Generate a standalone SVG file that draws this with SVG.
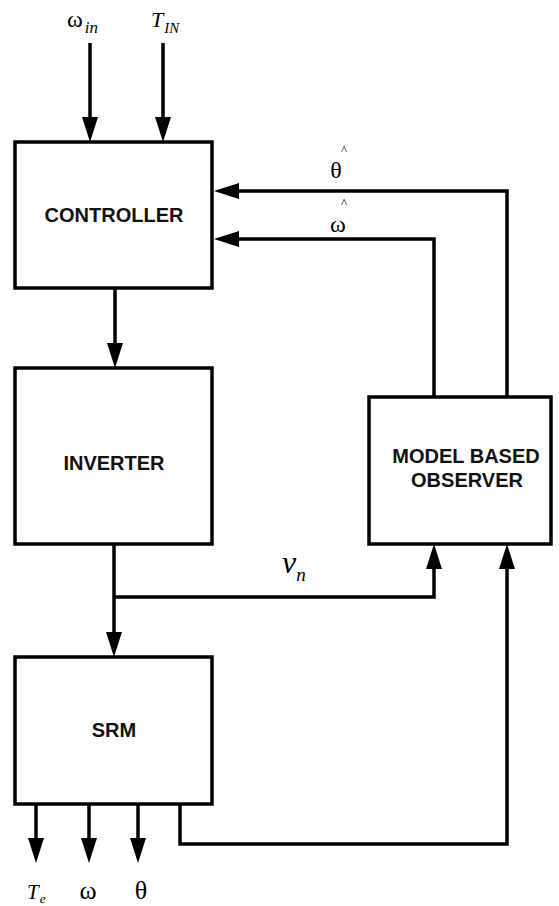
<svg xmlns="http://www.w3.org/2000/svg" width="559" height="906" viewBox="0 0 559 906">
<style>
.box{fill:#fff;stroke:#000;stroke-width:3.5}
.lbl{font-family:"Liberation Sans",Arial,sans-serif;font-weight:bold;font-size:20px;text-anchor:middle;fill:#111}
.ln{fill:none;stroke:#000;stroke-width:3.5}
.sym{font-family:"Liberation Serif","Times New Roman",serif;fill:#000}
.it{font-style:italic}
</style>
<defs>
<marker id="ah" markerUnits="userSpaceOnUse" markerWidth="26" markerHeight="16" refX="0" refY="8" orient="auto" overflow="visible">
<path d="M0,0 L25,8 L0,16 Z" fill="#000"/>
</marker>
</defs>
<g id="controller"><rect class="box" x="15" y="142" width="197" height="146"/><text class="lbl" x="114" y="222">CONTROLLER</text></g>
<g id="inverter"><rect class="box" x="15" y="368" width="197" height="176"/><text class="lbl" x="114" y="470">INVERTER</text></g>
<g id="srm"><rect class="box" x="15" y="657" width="197" height="147"/><text class="lbl" x="114" y="737">SRM</text></g>
<g id="observer"><rect class="box" x="369" y="397" width="182" height="147"/><text class="lbl" x="466" y="463">MODEL BASED</text><text class="lbl" x="467" y="487">OBSERVER</text></g>
<g id="connectors">
<path class="ln" d="M90,43 V117" marker-end="url(#ah)"/>
<path class="ln" d="M163,43 V117" marker-end="url(#ah)"/>
<path class="ln" d="M507,397 V191 H239" marker-end="url(#ah)"/>
<path class="ln" d="M434,397 V239 H239" marker-end="url(#ah)"/>
<path class="ln" d="M115,288 V343" marker-end="url(#ah)"/>
<path class="ln" d="M114,544 V632" marker-end="url(#ah)"/>
<path class="ln" d="M114,597 H434 V569" marker-end="url(#ah)"/>
<path class="ln" d="M180,804 V844 H507 V569" marker-end="url(#ah)"/>
<path class="ln" d="M36,804 V838" marker-end="url(#ah)"/>
<path class="ln" d="M89,804 V838" marker-end="url(#ah)"/>
<path class="ln" d="M138,804 V838" marker-end="url(#ah)"/>
</g>
<g id="labels">
<text class="sym" x="67" y="27" font-size="24">ω<tspan class="it" font-size="17" dy="6" dx="2">in</tspan></text>
<text class="sym it" x="151" y="27" font-size="22">T<tspan font-size="15" dy="6" dx="1">IN</tspan></text>
<text class="sym" x="336" y="178" font-size="24" text-anchor="middle">θ</text>
<text class="sym" x="344" y="154" font-size="13" text-anchor="middle">^</text>
<text class="sym" x="338" y="232" font-size="24" text-anchor="middle">ω</text>
<text class="sym" x="344" y="207" font-size="13" text-anchor="middle">^</text>
<text class="sym it" x="282" y="573" font-size="32">v<tspan font-size="19" dy="8">n</tspan></text>
<text class="sym it" x="27" y="899" font-size="21">T<tspan font-size="13" dy="4" dx="1">e</tspan></text>
<text class="sym" x="88" y="899" font-size="26" text-anchor="middle">ω</text>
<text class="sym" x="141" y="899" font-size="26" text-anchor="middle">θ</text>
</g>
</svg>
